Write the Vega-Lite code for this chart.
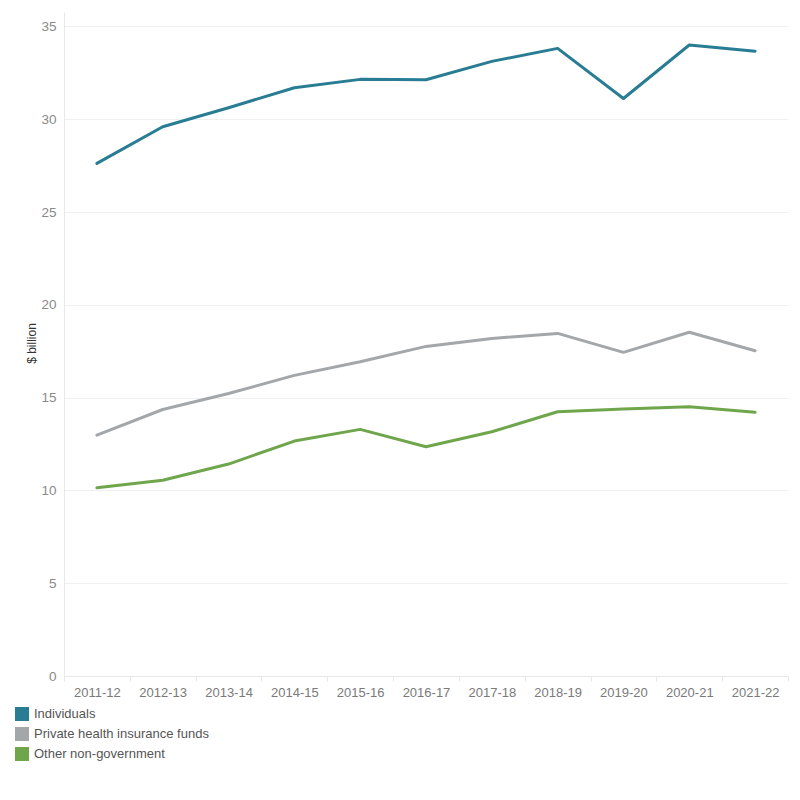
{
  "$schema": "https://vega.github.io/schema/vega-lite/v6.json",
  "autosize": {"type": "none"},
  "width": 724,
  "height": 664,
  "padding": {"left": 64, "top": 12, "right": 12, "bottom": 124},
  "background": "white",
  "config": {
    "view": {"stroke": null},
    "font": "Liberation Sans"
  },
  "data": {
    "values": [
      {"year": "2011-12", "source": "Individuals", "value": 27.62},
      {"year": "2012-13", "source": "Individuals", "value": 29.6},
      {"year": "2013-14", "source": "Individuals", "value": 30.62},
      {"year": "2014-15", "source": "Individuals", "value": 31.7},
      {"year": "2015-16", "source": "Individuals", "value": 32.15},
      {"year": "2016-17", "source": "Individuals", "value": 32.13},
      {"year": "2017-18", "source": "Individuals", "value": 33.12},
      {"year": "2018-19", "source": "Individuals", "value": 33.82},
      {"year": "2019-20", "source": "Individuals", "value": 31.12},
      {"year": "2020-21", "source": "Individuals", "value": 34.0},
      {"year": "2021-22", "source": "Individuals", "value": 33.67},
      {"year": "2011-12", "source": "Private health insurance funds", "value": 12.98},
      {"year": "2012-13", "source": "Private health insurance funds", "value": 14.36},
      {"year": "2013-14", "source": "Private health insurance funds", "value": 15.22},
      {"year": "2014-15", "source": "Private health insurance funds", "value": 16.2},
      {"year": "2015-16", "source": "Private health insurance funds", "value": 16.93},
      {"year": "2016-17", "source": "Private health insurance funds", "value": 17.76},
      {"year": "2017-18", "source": "Private health insurance funds", "value": 18.19},
      {"year": "2018-19", "source": "Private health insurance funds", "value": 18.46},
      {"year": "2019-20", "source": "Private health insurance funds", "value": 17.44},
      {"year": "2020-21", "source": "Private health insurance funds", "value": 18.52},
      {"year": "2021-22", "source": "Private health insurance funds", "value": 17.53},
      {"year": "2011-12", "source": "Other non-government", "value": 10.14},
      {"year": "2012-13", "source": "Other non-government", "value": 10.55},
      {"year": "2013-14", "source": "Other non-government", "value": 11.42},
      {"year": "2014-15", "source": "Other non-government", "value": 12.66},
      {"year": "2015-16", "source": "Other non-government", "value": 13.29},
      {"year": "2016-17", "source": "Other non-government", "value": 12.35},
      {"year": "2017-18", "source": "Other non-government", "value": 13.16},
      {"year": "2018-19", "source": "Other non-government", "value": 14.24},
      {"year": "2019-20", "source": "Other non-government", "value": 14.39},
      {"year": "2020-21", "source": "Other non-government", "value": 14.51},
      {"year": "2021-22", "source": "Other non-government", "value": 14.21}
    ]
  },
  "mark": {"type": "line", "strokeWidth": 3, "strokeCap": "round", "strokeJoin": "round"},
  "encoding": {
    "x": {
      "field": "year",
      "type": "ordinal",
      "bandPosition": 0.5,
      "scale": {"type": "band", "paddingInner": 0, "paddingOuter": 0},
      "axis": {
        "title": null,
        "labelAngle": 0,
        "labelFontSize": 13,
        "labelColor": "#7a7a7a",
        "labelPadding": 5,
        "tickBand": "extent",
        "tickSize": 5,
        "tickColor": "#e8e8e8",
        "domainColor": "#e8e8e8",
        "grid": false
      }
    },
    "y": {
      "field": "value",
      "type": "quantitative",
      "scale": {"domain": [0, 35.78], "nice": false, "zero": true},
      "axis": {
        "values": [0, 5, 10, 15, 20, 25, 30, 35],
        "title": "$ billion",
        "titleFontSize": 12,
        "titleFontWeight": "normal",
        "titleColor": "#333333",
        "titleAngle": -90,
        "titleX": -33,
        "titleY": 331,
        "titleAlign": "center",
        "titleBaseline": "middle",
        "labelFontSize": 13.5,
        "labelColor": "#8a8a8a",
        "labelPadding": 8,
        "ticks": false,
        "domainColor": "#e8e8e8",
        "gridColor": "#f0f0f0",
        "grid": true
      }
    },
    "color": {
      "field": "source",
      "type": "nominal",
      "sort": ["Individuals", "Private health insurance funds", "Other non-government"],
      "scale": {
        "domain": ["Individuals", "Private health insurance funds", "Other non-government"],
        "range": ["#287c93", "#a4a7aa", "#6fa64c"]
      },
      "legend": {
        "title": null,
        "orient": "none",
        "legendX": -49,
        "legendY": 695,
        "symbolType": "square",
        "symbolSize": 196,
        "symbolStrokeWidth": 0,
        "symbolOpacity": 1,
        "labelFontSize": 13,
        "labelColor": "#555555",
        "labelLimit": 400,
        "labelOffset": 5,
        "rowPadding": 6,
        "encode": {
          "symbols": {
            "update": {
              "fill": {"scale": "color", "field": "value"},
              "fillOpacity": {"value": 1}
            }
          }
        }
      }
    }
  }
}
